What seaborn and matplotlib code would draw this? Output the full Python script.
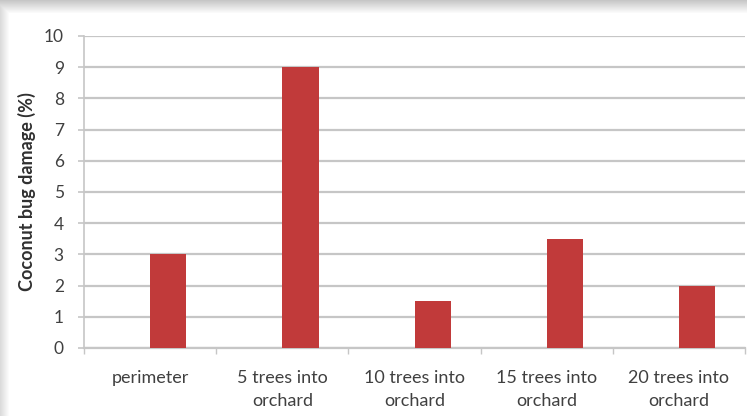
import numpy as np
import pandas as pd
import matplotlib
matplotlib.use("Agg")
import matplotlib.pyplot as plt
from matplotlib.ticker import FixedLocator
import seaborn as sns

# Coconut bug damage by distance into the orchard
categories = ["perimeter", "5 trees into\norchard", "10 trees into\norchard",
              "15 trees into\norchard", "20 trees into\norchard"]
damage = [3, 9, 1.5, 3.5, 2]
# an empty companion series keeps each bar in the right half of its slot
companion = [0, 0, 0, 0, 0]
y_ticks = list(range(0, 11))

df = pd.DataFrame({
    "location": categories * 2,
    "value": companion + damage,
    "series": ["blank"] * len(categories) + ["damage"] * len(categories),
})

sns.set_theme(style="white")
plt.rcParams["font.family"] = ["Lato", "DejaVu Sans"]

fig = plt.figure(figsize=(7.47, 4.16), dpi=100)
fig.patch.set_facecolor("#e6e6e6")

# framed card with a soft shadow along the top and left edges
bg = fig.add_axes([0, 0, 1, 1], zorder=-5)
H, W = 416, 747
img = np.ones((H, W, 3))
rows = np.arange(H)[:, None]
cols = np.arange(W)[None, :]
top = np.clip((13 - rows) / 13.0, 0, 1)
left = np.clip((9 - cols) / 9.0, 0, 1)
shade = np.maximum(top * 0.22, left * 0.14)
img = img - shade[..., None]
bg.imshow(img, aspect="auto", extent=[0, 1, 0, 1], interpolation="bilinear")
bg.set_axis_off()

ax = fig.add_axes([84 / W, 1 - 348 / H, (745 - 84) / W, (348 - 36) / H])
ax.set_facecolor("none")

bar_color = "#c13a3a"
sns.barplot(data=df, x="location", y="value", hue="series",
            hue_order=["blank", "damage"], palette=["#ffffff", bar_color],
            width=0.55, dodge=True, legend=False, ax=ax, saturation=1,
            linewidth=0, zorder=3)

ax.set_ylim(0, 10)
ax.set_xlim(-0.5, len(categories) - 0.5)
ax.set_yticks(y_ticks)
ax.yaxis.grid(True, color="#c6c6c6", linewidth=1.6, zorder=0)
ax.set_axisbelow(True)

for side in ("top", "right"):
    ax.spines[side].set_visible(False)
ax.spines["left"].set_color("#c6c6c6")
ax.spines["left"].set_linewidth(1.2)
ax.spines["bottom"].set_color("#c6c6c6")
ax.spines["bottom"].set_linewidth(1.6)

ax.tick_params(axis="y", which="major", length=4.5, width=1.2, color="#c6c6c6",
               labelsize=12.5, labelcolor="#404040", pad=10, left=True)
ax.tick_params(axis="x", which="major", length=0, labelsize=13,
               labelcolor="#404040", pad=16)
for lbl in ax.get_xticklabels():
    lbl.set_linespacing(1.5)
ax.xaxis.set_minor_locator(FixedLocator(np.arange(-0.5, len(categories), 1.0)))
ax.tick_params(axis="x", which="minor", length=4, width=1.0, color="#c6c6c6",
               bottom=True)

ax.set_xlabel("")
ax.set_ylabel("Coconut bug damage (%)", fontsize=13, fontweight="bold",
              color="#303030", labelpad=6)

fig.savefig("out.png", dpi=100)
